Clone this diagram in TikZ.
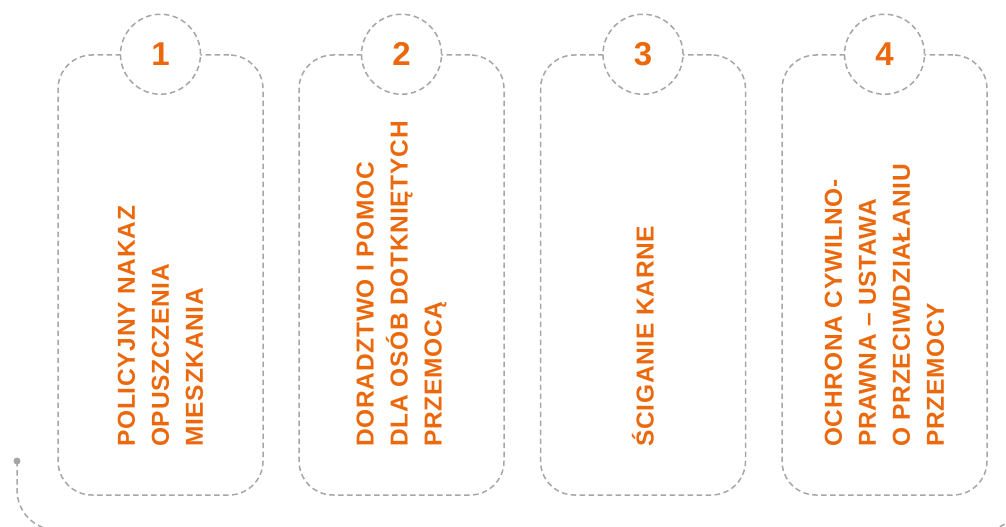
\documentclass[tikz,border=0pt]{standalone}
\usepackage{fontspec}
\setmainfont{Liberation Sans}
\newfontfamily\lblfont[LetterSpace=3]{Liberation Sans}
\definecolor{ora}{RGB}{236,104,12}
\definecolor{dgray}{RGB}{166,166,166}
\begin{document}
\begin{tikzpicture}[x=1pt,y=-1pt,
  dline/.style={draw=dgray, line width=1.5pt, dash pattern=on 5.5pt off 3.5pt},
  card/.style={dline, rectangle, rounded corners=34pt, minimum width=205pt, minimum height=440pt, inner sep=0pt},
  numc/.style={circle, dline, fill=white, minimum size=80pt, inner sep=0pt, text=ora, font=\bfseries\fontsize{33}{33}\selectfont},
  lbl/.style={rotate=90, anchor=west, align=left, inner sep=0pt, text=ora, font=\lblfont\bfseries\fontsize{24.5}{34}\selectfont}]
\useasboundingbox (0,0) rectangle (1006,527);
\clip (0,0) rectangle (1006,527);
% bottom connector
\coordinate (s) at (17,461);
\coordinate (c1) at (17,530);
\coordinate (c2) at (1024,530);
\coordinate (c3) at (1024,380);
\draw[dline, rounded corners=40pt] (s) -- (c1) -- (c2) -- (c3);
\fill[dgray] (s) circle (3.5pt);
% cards
\node[card] (b1) at (160.5,275) {};
\node[card] (b2) at (401.5,275) {};
\node[card] (b3) at (643,275) {};
\node[card] (b4) at (884.5,275) {};
\node[numc] (n1) at (b1.north) {1};
\node[numc] (n2) at (b2.north) {2};
\node[numc] (n3) at (b3.north) {3};
\node[numc] (n4) at (b4.north) {4};
\node[lbl] (t1) at (160.5,447) {POLICYJNY NAKAZ\\OPUSZCZENIA\\MIESZKANIA};
\node[lbl] (t2) at (401.5,447) {DORADZTWO I POMOC\\DLA OSÓB DOTKNIĘTYCH\\PRZEMOCĄ};
\node[lbl] (t3) at (643,447) {ŚCIGANIE KARNE};
\node[lbl] (t4) at (884.5,447) {OCHRONA CYWILNO-\\PRAWNA – USTAWA\\O PRZECIWDZIAŁANIU\\PRZEMOCY};
\end{tikzpicture}
\end{document}
